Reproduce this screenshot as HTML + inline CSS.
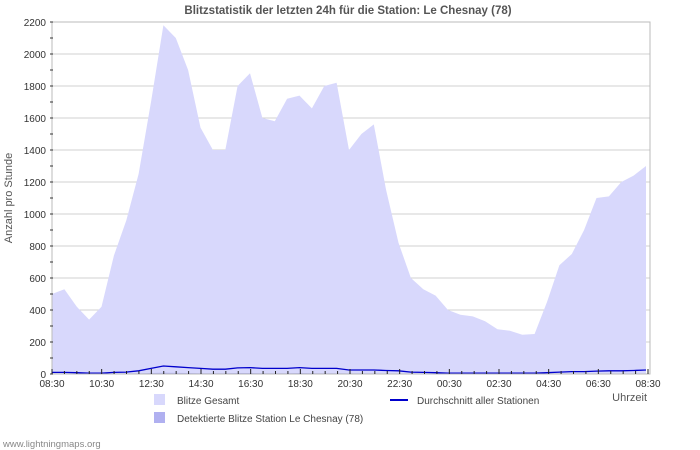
<!DOCTYPE html>
<html><head><meta charset="utf-8"><style>
body{margin:0;background:#fff;}
svg{display:block;font-family:"Liberation Sans","DejaVu Sans",sans-serif;}
</style></head><body>
<svg width="700" height="450" viewBox="0 0 700 450">
<text x="348" y="14" text-anchor="middle" font-size="11.5" font-weight="bold" fill="#555">Blitzstatistik der letzten 24h für die Station: Le Chesnay (78)</text>
<g id="grid"></g>
<g id="series"></g>
<rect x="52" y="22" width="598" height="352" fill="none" stroke="#bbb"/>
<g id="axes"></g>
<text x="12" y="198" transform="rotate(-90 12 198)" text-anchor="middle" font-size="11" fill="#555">Anzahl pro Stunde</text>
<text x="647" y="401" text-anchor="end" font-size="11" fill="#555">Uhrzeit</text>
<g>
<rect x="154" y="394" width="11" height="11" fill="#d8d8fc"/>
<text x="177" y="404" font-size="10" fill="#444">Blitze Gesamt</text>
<rect x="154" y="412" width="11" height="11" fill="#b0b0f0"/>
<text x="177" y="422" font-size="10" fill="#444">Detektierte Blitze Station Le Chesnay (78)</text>
<line x1="390" y1="400" x2="408" y2="400" stroke="#0000cc" stroke-width="2"/>
<text x="417" y="404" font-size="10" fill="#444">Durchschnitt aller Stationen</text>
</g>
<text x="3" y="447" font-size="9.5" fill="#888">www.lightningmaps.org</text>
</svg>
<script>
const totalValues=[500,530,420,340,420,740,960,1250,1700,2180,2100,1900,1540,1400,1400,1800,1880,1600,1580,1720,1740,1660,1800,1820,1400,1500,1560,1150,820,600,530,490,400,370,360,330,280,270,245,250,450,680,750,900,1100,1110,1200,1240,1300];
const avgValues=[10,10,8,5,5,10,12,20,35,50,45,40,35,30,30,38,40,35,35,35,40,35,35,35,25,25,25,22,20,12,10,8,5,5,5,5,5,5,5,5,8,12,15,15,18,20,20,22,25];
const stationValues=[2,2,1,1,1,2,3,4,6,8,7,6,5,5,5,6,6,5,5,5,6,5,5,5,4,4,4,3,3,2,2,1,1,1,1,1,1,1,1,1,1,2,2,2,3,3,3,3,3];
const xTickLabels=["08:30","10:30","12:30","14:30","16:30","18:30","20:30","22:30","00:30","02:30","04:30","06:30","08:30"];
const yTickValues=[0,200,400,600,800,1000,1200,1400,1600,1800,2000,2200];
const NS="http://www.w3.org/2000/svg";
const x0=52,x1=646,xEnd=648,yb=374,yt=22,ymax=2200;
function xs(i,n){return x0+(x1-x0)*i/(n-1);}
function ys(v){return yb-(yb-yt)*v/ymax;}
function mk(t,a,p){const e=document.createElementNS(NS,t);for(const k in a)e.setAttribute(k,a[k]);p.appendChild(e);return e;}
const grid=document.getElementById('grid'),ser=document.getElementById('series'),ax=document.getElementById('axes');
yTickValues.forEach(v=>{
 if(v>0&&v<ymax){const l=mk('line',{x1:52,x2:650,y1:ys(v),y2:ys(v),stroke:'#d0d0d0'},grid);
 
 }
 const t=mk('text',{x:46,y:ys(v)+4,'text-anchor':'end','font-size':10,fill:'#333'},ax);t.textContent=v;
 
 
});
for(let v=0;v<=ymax;v+=100){mk('line',{x1:50,x2:53,y1:ys(v),y2:ys(v),stroke:'#333'},ax);}
function area(vals,fill,name){let d='M'+xs(0,vals.length)+','+yb;vals.forEach((v,i)=>d+=' L'+xs(i,vals.length).toFixed(1)+','+ys(v).toFixed(1));d+=' L'+xs(vals.length-1,vals.length)+','+yb+'Z';
 const p=mk('path',{d:d,fill:fill},ser);
 
 }
area(totalValues,'#d8d8fc','total-area');
area(stationValues,'#b0b0f0','station-area');
let d='';avgValues.forEach((v,i)=>d+=(i?' L':'M')+xs(i,avgValues.length).toFixed(1)+','+ys(v).toFixed(1));
const al=mk('path',{d:d,fill:'none',stroke:'#0000cc','stroke-width':1.3},ser);


const step=(xEnd-x0)/48;
for(let i=0;i<=48;i++){const x=x0+i*step;mk('line',{x1:x,x2:x,y1:i%4==0?369:371,y2:374,stroke:'#222'},ax);}
xTickLabels.forEach((s,i)=>{const t=mk('text',{x:x0+i*step*4,y:387,'text-anchor':'middle','font-size':10,fill:'#333'},ax);t.textContent=s;
 
 });
</script>
</body></html>
